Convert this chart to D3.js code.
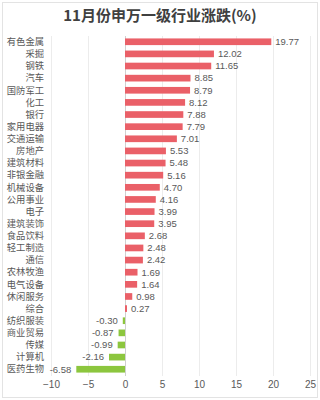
<!DOCTYPE html>
<html><head><meta charset="utf-8">
<script src="https://cdn.jsdelivr.net/npm/d3@7/dist/d3.min.js"></script>
<style>
html,body{margin:0;padding:0;background:#fff;}
svg{display:block;font-family:"Noto Sans CJK SC",sans-serif;}
</style></head>
<body><svg id="c" width="320" height="400"></svg>
<script>
const title = "11月份申万一级行业涨跌(%)";
const categories = ["有色金属","采掘","钢铁","汽车","国防军工","化工","银行","家用电器","交通运输","房地产","建筑材料","非银金融","机械设备","公用事业","电子","建筑装饰","食品饮料","轻工制造","通信","农林牧渔","电气设备","休闲服务","综合","纺织服装","商业贸易","传媒","计算机","医药生物"];
const values = [19.77,12.02,11.65,8.85,8.79,8.12,7.88,7.79,7.01,5.53,5.48,5.16,4.70,4.16,3.99,3.95,2.68,2.48,2.42,1.69,1.64,0.98,0.27,-0.30,-0.87,-0.99,-2.16,-6.58];
const xTicks = [-10,-5,0,5,10,15,20,25];

const svg = d3.select("#c");
svg.append("rect").attr("x",2.5).attr("y",2.5).attr("width",315).attr("height",395)
  .attr("fill","#fff").attr("stroke","#e3e3e3");

svg.append("text").attr("x",160).attr("y",21).attr("text-anchor","middle")
  .attr("font-size",15).attr("font-weight","bold").attr("fill","#404040").text(title);

const x = d3.scaleLinear().domain([-10,25]).range([51,310]);
const y = d3.scaleBand().domain(categories).range([36,375]).paddingInner(0.45).paddingOuter(0.2);

// gridlines
svg.append("g").selectAll("line").data(xTicks).join("line")
  .attr("x1",d=>x(d)).attr("x2",d=>x(d)).attr("y1",36).attr("y2",376)
  .attr("stroke",d=>d===0?"#d0d0d0":"#ececec").attr("stroke-width",1)
  .attr("shape-rendering","crispEdges");

// axis labels
const ax = svg.append("g").attr("transform","translate(0,377)")
  .call(d3.axisBottom(x).tickValues(xTicks).tickSize(0).tickPadding(4).tickFormat(d3.format("d")));
ax.select(".domain").remove();
ax.selectAll("text").attr("font-size",10).attr("fill","#595959").attr("font-family","'Liberation Sans','Noto Sans',sans-serif");

// bars
svg.append("g").selectAll("rect").data(values).join("rect")
  .attr("x",d=>x(Math.min(0,d)))
  .attr("width",d=>Math.abs(x(d)-x(0)))
  .attr("y",(d,i)=>y(categories[i]))
  .attr("height",y.bandwidth())
  .attr("fill",d=>d>=0?"#ea6068":"#8cc63e");

// category labels
svg.append("g").selectAll("text").data(categories).join("text")
  .attr("x",44).attr("y",d=>y(d)+y.bandwidth()/2).attr("dy","0.35em")
  .attr("text-anchor","end").attr("font-size",9.3).attr("fill","#595959")
  .attr("font-family","'Liberation Sans','Noto Sans CJK SC',sans-serif")
  .text(d=>d);

// value labels
svg.append("g").selectAll("text").data(values).join("text")
  .attr("x",d=>d>=0?x(d)+4:x(d)-5)
  .attr("y",(d,i)=>y(categories[i])+y.bandwidth()/2).attr("dy","0.35em")
  .attr("text-anchor",d=>d>=0?"start":"end")
  .attr("font-size",9.5).attr("fill","#595959")
  .attr("font-family","'Liberation Sans','Noto Sans',sans-serif")
  .text(d=>d.toFixed(2));
</script></body></html>
